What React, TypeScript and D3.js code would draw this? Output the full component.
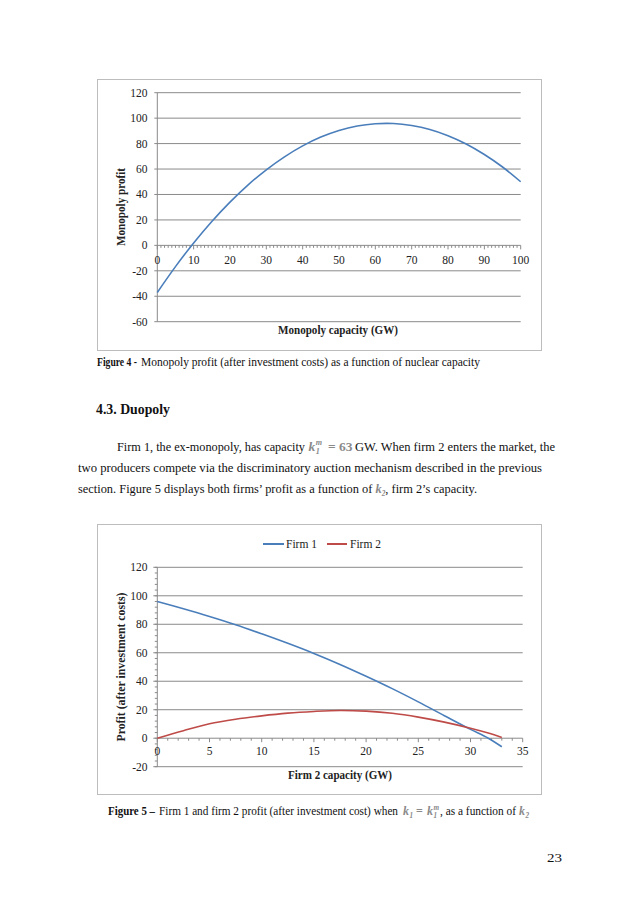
import React from "react";
import * as d3 from "d3";

// ---------- Data ----------
const monoCapacity = [0, 5, 10, 15, 20, 25, 30, 35, 40, 45, 50, 55, 60, 65, 70, 75, 80, 85, 90, 95, 100];
const monoProfit = [-37, -16.7, 1.9, 18.8, 34, 47.6, 59.4, 69.6, 78.2, 85.1, 90.3, 93.8, 95.6, 95.8, 94.2, 91.1, 86.2, 79.7, 71.4, 61.6, 50];
const monoYTicks = [-60, -40, -20, 0, 20, 40, 60, 80, 100, 120];
const monoXTicks = [0, 10, 20, 30, 40, 50, 60, 70, 80, 90, 100];

const firmCapacity = [0, 2.5, 5, 7.5, 10, 12.5, 15, 17.5, 20, 22.5, 25, 27.5, 30, 31.7, 33];
const firm1Profit = [96, 90.9, 85.5, 79.7, 73.3, 66.6, 59.5, 51.8, 43.5, 34.8, 25.5, 15.8, 6.2, 0, -6];
const firm2Profit = [0, 5.3, 10.1, 13.3, 15.7, 17.6, 18.8, 19.5, 19.0, 17.5, 14.8, 11.3, 7.0, 3.6, 0.5];
const duoYTicks = [-20, 0, 20, 40, 60, 80, 100, 120];
const duoXTicks = [0, 5, 10, 15, 20, 25, 30, 35];
const seriesNames = ["Firm 1", "Firm 2"];

const BLUE = "#4a7ebb";
const RED = "#be4b48";
const GRID = "#8a8a8a";
const FRAME = "#bdbdbd";
const SERIF = "'Liberation Serif', 'DejaVu Serif', serif";
const MATH_FILL = "#8a8a8a";

function MathK({ x, y, size, sub, sup }: { x: number; y: number; size: number; sub: string; sup?: string }) {
  const small = size * 0.6;
  const w = size * 0.5;
  return (
    <g fill={MATH_FILL} fontWeight={700} fontStyle="italic">
      <text x={x} y={y} fontSize={size}>k</text>
      <text x={x + w + 0.5} y={y + size * 0.22} fontSize={small}>{sub}</text>
      {sup ? (
        <text x={x + w + 0.5} y={y - size * 0.45} fontSize={small}>{sup}</text>
      ) : null}
    </g>
  );
}

export default function App() {
  // chart 1 scales
  const x1 = d3.scaleLinear().domain([0, 100]).range([157.3, 520.7]);
  const y1 = d3.scaleLinear().domain([-60, 120]).range([321.7, 92.7]);
  // chart 2 scales
  const x2 = d3.scaleLinear().domain([0, 35]).range([157.3, 522.7]);
  const y2 = d3.scaleLinear().domain([-20, 120]).range([766.7, 567.3]);

  const line1 = d3
    .line<number>()
    .x((_, i) => x1(monoCapacity[i]))
    .y((d) => y1(d))
    .curve(d3.curveCatmullRom);
  const line2 = d3
    .line<number>()
    .x((_, i) => x2(firmCapacity[i]))
    .y((d) => y2(d))
    .curve(d3.curveCatmullRom);

  const minor1 = d3.range(0, 101, 1);
  const minor2x = d3.range(0, 36, 1);
  const minor2y = d3.range(-20, 121, 4);

  return (
    <svg
      width={638}
      height={903}
      style={{ position: "absolute", left: 0, top: 0, background: "#fff" }}
      fontFamily={SERIF}
    >
      <rect x={0} y={0} width={638} height={903} fill="#fff" />

      {/* ================= Chart 1 ================= */}
      <rect x={97.5} y={79.5} width={444} height={271} fill="none" stroke={FRAME} strokeWidth={1} />
      {monoYTicks.map((t) => (
        <g key={"g1" + t}>
          <line x1={x1(0) - 3} x2={x1(100)} y1={y1(t)} y2={y1(t)} stroke={GRID} strokeWidth={1} />
          <text x={147.5} y={y1(t) + 4} textAnchor="end" fontSize={11.5} fill="#222">
            {t}
          </text>
        </g>
      ))}
      <line x1={x1(0)} x2={x1(0)} y1={y1(120)} y2={y1(-60)} stroke={GRID} strokeWidth={1} />
      {minor1.map((t) => (
        <line
          key={"m1" + t}
          x1={x1(t)}
          x2={x1(t)}
          y1={y1(0)}
          y2={y1(0) + (t % 10 === 0 ? 4 : 2.5)}
          stroke={GRID}
          strokeWidth={1}
        />
      ))}
      {monoXTicks.map((t) => (
        <text key={"xl1" + t} x={x1(t)} y={263.5} textAnchor="middle" fontSize={11.5} fill="#222">
          {t}
        </text>
      ))}
      <path d={line1(monoProfit) || ""} fill="none" stroke={BLUE} strokeWidth={1.6} />
      <text x={338} y={334} textAnchor="middle" fontSize={12} fontWeight={700} fill="#222" textLength={120} lengthAdjust="spacingAndGlyphs">
        Monopoly capacity (GW)
      </text>
      <text
        transform="translate(125,207) rotate(-90)"
        textAnchor="middle"
        fontSize={12}
        fontWeight={700}
        fill="#222"
        textLength={78}
        lengthAdjust="spacingAndGlyphs"
      >
        Monopoly profit
      </text>

      {/* Caption 1 */}
      <text x={97} y={366} fontSize={12} fill="#111" textLength={40} lengthAdjust="spacingAndGlyphs" fontWeight={700}>
        Figure 4 -
      </text>
      <text x={141} y={366} fontSize={12} fill="#111" textLength={339} lengthAdjust="spacingAndGlyphs">
        Monopoly profit (after investment costs) as a function of nuclear capacity
      </text>

      {/* ================= Text section ================= */}
      <text x={96} y={414} fontSize={14.5} fontWeight={700} fill="#111" textLength={74} lengthAdjust="spacingAndGlyphs">
        4.3. Duopoly
      </text>
      <text x={117} y={451} fontSize={13.5} fill="#111" textLength={188} lengthAdjust="spacingAndGlyphs">
        Firm 1, the ex-monopoly, has capacity
      </text>
      <MathK x={308.5} y={451} size={13.5} sub="1" sup="m" />
      <text x={328} y={451} fontSize={13.5} fill={MATH_FILL} fontWeight={700}>
        = 63
      </text>
      <text x={355} y={451} fontSize={13.5} fill="#111" textLength={200} lengthAdjust="spacingAndGlyphs">
        GW. When firm 2 enters the market, the
      </text>
      <text x={78} y={472} fontSize={13.5} fill="#111" textLength={464} lengthAdjust="spacingAndGlyphs">
        two producers compete via the discriminatory auction mechanism described in the previous
      </text>
      <text x={78} y={493} fontSize={13.5} fill="#111" textLength={399} lengthAdjust="spacingAndGlyphs">
        section. Figure 5 displays both firms’ profit as a function of{" "}
        <tspan fill={MATH_FILL} fontWeight={700} fontStyle="italic">k</tspan>
        <tspan fill={MATH_FILL} fontWeight={700} fontStyle="italic" fontSize={8} dy={3}>2</tspan>
        <tspan dy={-3}>, firm 2’s capacity.</tspan>
      </text>

      {/* ================= Chart 2 ================= */}
      <rect x={97.5} y={524.5} width={444} height={270} fill="none" stroke={FRAME} strokeWidth={1} />
      {duoYTicks.map((t) => (
        <g key={"g2" + t}>
          <line x1={x2(0) - 4} x2={x2(35)} y1={y2(t)} y2={y2(t)} stroke={GRID} strokeWidth={1} />
          <text x={147.5} y={y2(t) + 4} textAnchor="end" fontSize={11.5} fill="#222">
            {t}
          </text>
        </g>
      ))}
      <line x1={x2(0)} x2={x2(0)} y1={y2(120)} y2={y2(-20)} stroke={GRID} strokeWidth={1} />
      {minor2y.map((t) => (
        <line key={"my2" + t} x1={x2(0) - 2.5} x2={x2(0)} y1={y2(t)} y2={y2(t)} stroke={GRID} strokeWidth={1} />
      ))}
      {minor2x.map((t) => (
        <line
          key={"mx2" + t}
          x1={x2(t)}
          x2={x2(t)}
          y1={y2(0)}
          y2={y2(0) + (t % 5 === 0 ? 4 : 2.5)}
          stroke={GRID}
          strokeWidth={1}
        />
      ))}
      {duoXTicks.map((t) => (
        <text key={"xl2" + t} x={x2(t)} y={755} textAnchor="middle" fontSize={11.5} fill="#222">
          {t}
        </text>
      ))}
      <path d={line2(firm1Profit) || ""} fill="none" stroke={BLUE} strokeWidth={1.6} />
      <path d={line2(firm2Profit) || ""} fill="none" stroke={RED} strokeWidth={1.6} />

      {/* legend */}
      <line x1={263} x2={284} y1={544} y2={544} stroke={BLUE} strokeWidth={2} />
      <text x={286} y={548} fontSize={11.5} fill="#222">
        {seriesNames[0]}
      </text>
      <line x1={327} x2={347} y1={544} y2={544} stroke={RED} strokeWidth={2} />
      <text x={350} y={548} fontSize={11.5} fill="#222">
        {seriesNames[1]}
      </text>

      <text x={340} y={779} textAnchor="middle" fontSize={12} fontWeight={700} fill="#222" textLength={104} lengthAdjust="spacingAndGlyphs">
        Firm 2 capacity (GW)
      </text>
      <text
        transform="translate(125,667) rotate(-90)"
        textAnchor="middle"
        fontSize={12}
        fontWeight={700}
        fill="#222"
        textLength={149}
        lengthAdjust="spacingAndGlyphs"
      >
        Profit (after investment costs)
      </text>

      {/* Caption 2 */}
      <text x={108} y={815} fontSize={12} fontWeight={700} fill="#111" textLength={47} lengthAdjust="spacingAndGlyphs">
        Figure 5 –
      </text>
      <text x={159} y={815} fontSize={12} fill="#111" textLength={239} lengthAdjust="spacingAndGlyphs">
        Firm 1 and firm 2 profit (after investment cost) when
      </text>
      <MathK x={403} y={815} size={12} sub="1" />
      <text x={416} y={815} fontSize={12} fill={MATH_FILL} fontWeight={700}>
        =
      </text>
      <MathK x={427} y={815} size={12} sub="1" sup="m" />
      <text x={440} y={815} fontSize={12} fill="#111" textLength={76} lengthAdjust="spacingAndGlyphs">
        , as a function of
      </text>
      <MathK x={519} y={815} size={12} sub="2" />

      {/* page number */}
      <text x={547} y={862} fontSize={13} fill="#111" textLength={15} lengthAdjust="spacingAndGlyphs">
        23
      </text>
    </svg>
  );
}
